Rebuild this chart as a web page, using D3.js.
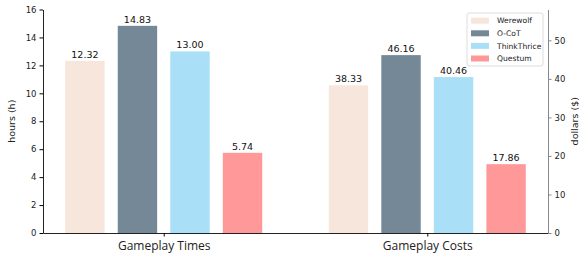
<!DOCTYPE html>
<html>
<head>
<meta charset="utf-8">
<script src="https://cdn.jsdelivr.net/npm/d3@7"></script>
<style>
  body { margin: 0; background: #fff; }
  svg text { font-family: "DejaVu Sans", sans-serif; }
</style>
</head>
<body>
<div id="chart"></div>
<script>
const groups = ["Gameplay Times", "Gameplay Costs"];
const methods = ["Werewolf", "O-CoT", "ThinkThrice", "Questum"];
const colors = ["#f7e6dc", "#758897", "#aadff8", "#ff9999"];
const hours = [12.32, 14.83, 13.00, 5.74];
const dollars = [38.33, 46.16, 40.46, 17.86];
const leftTicks = [0, 2, 4, 6, 8, 10, 12, 14, 16];
const rightTicks = [0, 10, 20, 30, 40, 50];

const W = 579, H = 257;
const margin = { top: 9.5, right: 31, bottom: 24, left: 43 };
const width = W - margin.left - margin.right,
  height = H - margin.top - margin.bottom;

const svg = d3.select("#chart").append("svg")
  .attr("width", W).attr("height", H);
const g = svg.append("g")
  .attr("transform", "translate(" + margin.left + "," + margin.top + ")");

// x: group centres, then bars offset inside the group
const x0 = d3.scalePoint().domain(groups).range([0, width]).padding(0.458);
const x1 = d3.scaleBand().domain(methods).range([-98.5, 98.5]).paddingInner(0.25);

const yL = d3.scaleLinear().domain([0, 16]).range([height, 0]);
const yR = d3.scaleLinear().domain([0, 58]).range([height, 0]);

const series = [
  { group: groups[0], values: hours, y: yL },
  { group: groups[1], values: dollars, y: yR }
];

series.forEach((s) => {
  const bars = g.append("g")
    .attr("transform", "translate(" + x0(s.group) + ",0)");
  bars.selectAll("rect")
    .data(s.values)
    .enter()
    .append("rect")
    .attr("x", (d, i) => x1(methods[i]))
    .attr("width", x1.bandwidth())
    .attr("y", (d) => s.y(d))
    .attr("height", (d) => height - s.y(d))
    .attr("fill", (d, i) => colors[i]);
  bars.selectAll("text")
    .data(s.values)
    .enter()
    .append("text")
    .attr("x", (d, i) => x1(methods[i]) + x1.bandwidth() / 2)
    .attr("y", (d) => s.y(d) - 3)
    .attr("text-anchor", "middle")
    .attr("font-size", 9.5)
    .attr("fill", "#111")
    .text((d) => d.toFixed(2));
});

// axes
const xAxis = g.append("g")
  .attr("transform", "translate(0," + height + ")")
  .call(d3.axisBottom(x0).tickSize(3.5).tickSizeOuter(0));
xAxis.selectAll("text")
  .attr("dy", "0.9em")
  .style("font-family", "'Open Sans', sans-serif")
  .attr("font-size", 12)
  .attr("fill", "#222");

const leftAxis = g.append("g")
  .call(d3.axisLeft(yL).tickValues(leftTicks).tickFormat(d3.format("d")).tickSize(3.5).tickSizeOuter(0));
leftAxis.selectAll("text").attr("font-size", 8.5).attr("fill", "#222");

const rightAxis = g.append("g")
  .attr("transform", "translate(" + width + ",0)")
  .call(d3.axisRight(yR).tickValues(rightTicks).tickSize(3.5).tickSizeOuter(0));
rightAxis.selectAll("text").attr("font-size", 8.5).attr("fill", "#222");
rightAxis.select(".domain").attr("stroke", "#888");
rightAxis.selectAll(".tick line").attr("stroke", "#888");

[xAxis, leftAxis].forEach((a) => a.select(".domain").attr("stroke", "#222"));

// axis labels
g.append("text")
  .attr("transform", "translate(-28," + (height / 2) + ") rotate(-90)")
  .attr("text-anchor", "middle")
  .attr("font-size", 9.5)
  .attr("fill", "#222")
  .text("hours (h)");
g.append("text")
  .attr("transform", "translate(" + (width + 30) + "," + (height / 2) + ") rotate(-90)")
  .attr("text-anchor", "middle")
  .attr("font-size", 9.5)
  .attr("fill", "#222")
  .text("dollars ($)");

// legend
const legend = g.append("g")
  .attr("transform", "translate(" + (467 - margin.left) + "," + (13 - margin.top) + ")");
legend.append("rect")
  .attr("width", 76).attr("height", 53).attr("rx", 2)
  .attr("fill", "#fff").attr("stroke", "#ddd");
const items = legend.selectAll("g.item")
  .data(methods)
  .enter()
  .append("g")
  .attr("transform", (d, i) => "translate(4," + (7.7 + i * 12.6) + ")");
items.append("rect")
  .attr("y", -3).attr("width", 18).attr("height", 6)
  .attr("fill", (d, i) => colors[i]);
items.append("text")
  .attr("x", 26).attr("dy", "0.35em")
  .attr("font-size", 7.6)
  .attr("fill", "#222")
  .text((d) => d);
</script>
</body>
</html>
